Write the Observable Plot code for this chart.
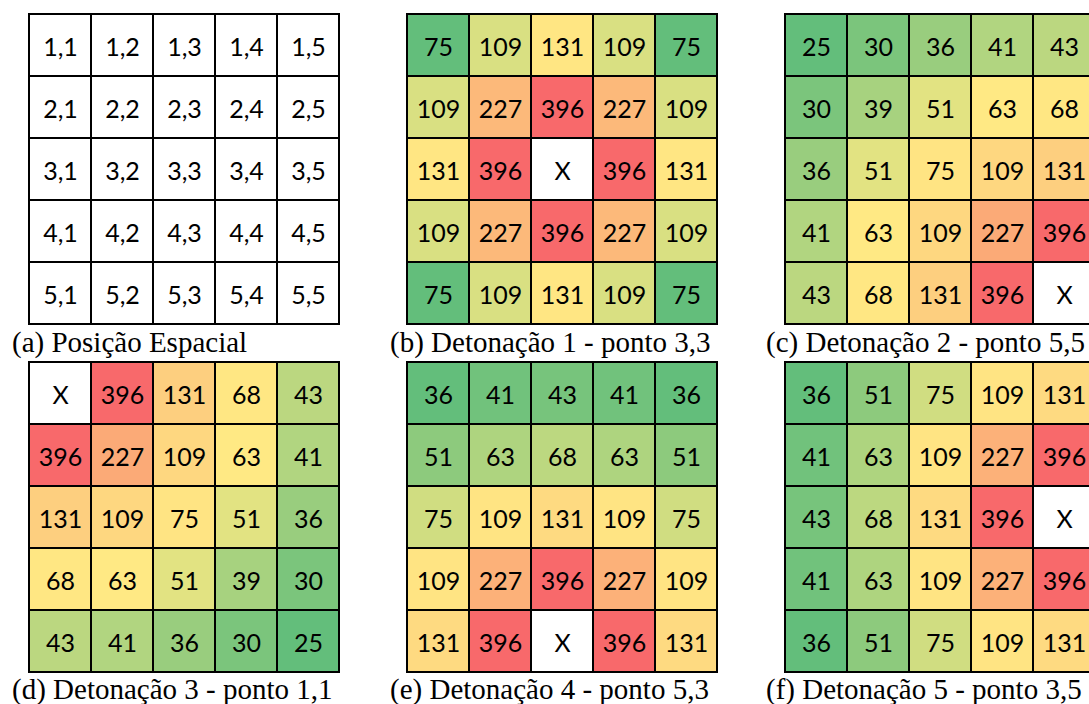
<!DOCTYPE html>
<html>
<head>
<meta charset="utf-8">
<script src="https://cdn.jsdelivr.net/npm/d3@7"></script>
<script src="https://cdn.jsdelivr.net/npm/@observablehq/plot@0.6"></script>
<style>
  html, body { margin: 0; padding: 0; background: #fff; overflow: hidden; }
  #root { position: relative; width: 1089px; height: 704px; overflow: hidden; }
  .panel { position: absolute; }
  .caption { position: absolute; font-family: "Liberation Serif", "Times New Roman", serif; font-size: 29px; line-height: 29px; white-space: nowrap; color: #000; }
</style>
</head>
<body>
<div id="root"></div>
<script>
// ---- data ----
const rows = [1, 2, 3, 4, 5];
const cols = [1, 2, 3, 4, 5];

// null = detonation point ("X")
const gridB = [
  [75, 109, 131, 109, 75],
  [109, 227, 396, 227, 109],
  [131, 396, null, 396, 131],
  [109, 227, 396, 227, 109],
  [75, 109, 131, 109, 75]
];
const gridC = [
  [25, 30, 36, 41, 43],
  [30, 39, 51, 63, 68],
  [36, 51, 75, 109, 131],
  [41, 63, 109, 227, 396],
  [43, 68, 131, 396, null]
];
const gridD = [
  [null, 396, 131, 68, 43],
  [396, 227, 109, 63, 41],
  [131, 109, 75, 51, 36],
  [68, 63, 51, 39, 30],
  [43, 41, 36, 30, 25]
];
const gridE = [
  [36, 41, 43, 41, 36],
  [51, 63, 68, 63, 51],
  [75, 109, 131, 109, 75],
  [109, 227, 396, 227, 109],
  [131, 396, null, 396, 131]
];
const gridF = [
  [36, 51, 75, 109, 131],
  [41, 63, 109, 227, 396],
  [43, 68, 131, 396, null],
  [41, 63, 109, 227, 396],
  [36, 51, 75, 109, 131]
];

const captions = [
  "(a) Posição Espacial",
  "(b) Detonação 1 - ponto 3,3",
  "(c) Detonação 2 - ponto 5,5",
  "(d) Detonação 3 - ponto 1,1",
  "(e) Detonação 4 - ponto 5,3",
  "(f) Detonação 5 - ponto 3,5"
];

const colorStops = ["#63BE7B", "#FFEB84", "#F8696B"];

// ---- layout ----
const panelLeft = [27, 405, 783];
const panelTop = [12, 360];
const captionLeft = [12, 390, 766];
const captionTop = [328, 675];
const cellFont = "Lato, 'Open Sans', sans-serif";

function tableOf(grid) {
  const out = [];
  rows.forEach((r, i) => cols.forEach((c, j) => {
    const v = grid ? grid[i][j] : null;
    out.push({r, c, v, label: grid ? (v == null ? "X" : String(v)) : `${r},${c}`});
  }));
  return out;
}

function panel(grid) {
  const data = tableOf(grid);
  const vals = data.filter(d => d.v != null).map(d => d.v);
  const marks = [
    Plot.cell(data, {x: "c", y: "r", fill: "white"})
  ];
  let color = undefined;
  if (grid) {
    const dom = [d3.min(vals), d3.quantile(vals, 0.5), d3.max(vals)];
    color = {type: "linear", domain: dom, range: colorStops, interpolate: "rgb"};
    marks.push(Plot.cell(data.filter(d => d.v != null), {x: "c", y: "r", fill: "v"}));
  }
  marks.push(Plot.cell(data, {x: "c", y: "r", fill: "none", stroke: "black", strokeWidth: 2}));
  marks.push(Plot.text(data, {x: "c", y: "r", text: "label", fill: "black", fontSize: 25, fontFamily: cellFont, dy: 2}));
  return Plot.plot({
    width: 314, height: 314,
    margin: 1,
    x: {domain: cols, axis: null, padding: 0},
    y: {domain: rows, axis: null, padding: 0},
    color,
    style: {background: "transparent", overflow: "visible"},
    marks
  });
}

const root = document.getElementById("root");
const grids = [null, gridB, gridC, gridD, gridE, gridF];
grids.forEach((g, k) => {
  const col = k % 3, row = Math.floor(k / 3);
  const svg = panel(g);
  svg.classList.add("panel");
  svg.style.left = panelLeft[col] + "px";
  svg.style.top = panelTop[row] + "px";
  root.appendChild(svg);
  const cap = document.createElement("div");
  cap.className = "caption";
  cap.textContent = captions[k];
  cap.style.left = captionLeft[col] + "px";
  cap.style.top = captionTop[row] + "px";
  root.appendChild(cap);
});
</script>
</body>
</html>
